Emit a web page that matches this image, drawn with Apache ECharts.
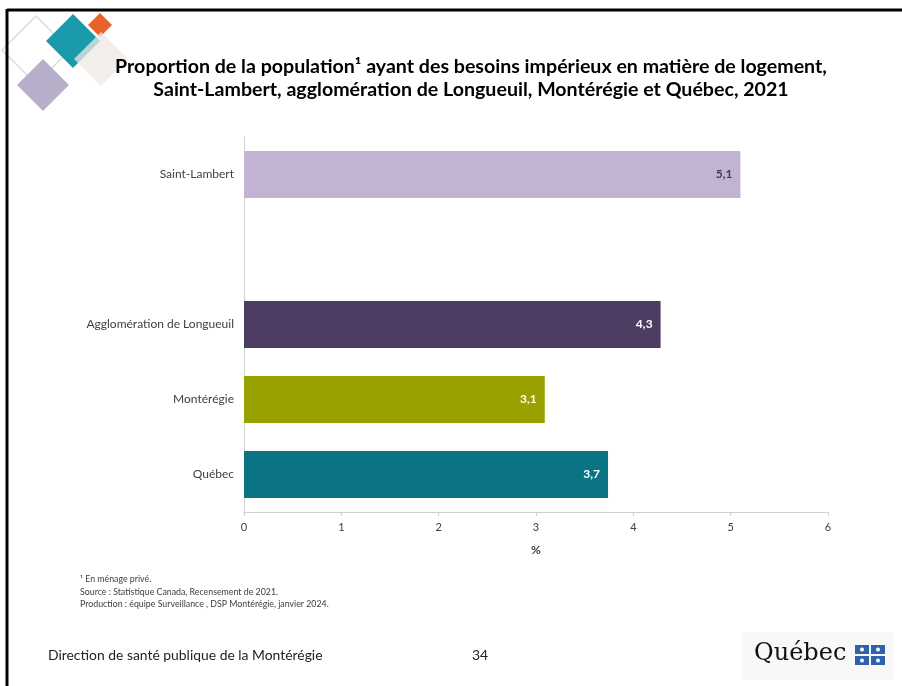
<!DOCTYPE html>
<html><head><meta charset="utf-8">
<script src="https://cdn.jsdelivr.net/npm/echarts@6/dist/echarts.min.js"></script>
<style>html,body{margin:0;padding:0;background:#fff}#c{width:902px;height:686px}</style>
</head><body><div id="c"></div>
<script>
var categories = ['Saint-Lambert', '', 'Agglomération de Longueuil', 'Montérégie', 'Québec'];
var values = [5.1, null, 4.28, 3.09, 3.74];
var xTicks = [0, 1, 2, 3, 4, 5, 6];
var titleLines = ['Proportion de la population¹ ayant des besoins impérieux en matière de logement,', 'Saint-Lambert, agglomération de Longueuil, Montérégie et Québec, 2021'];
var footnotes = ['¹ En ménage privé.', 'Source : Statistique Canada, Recensement de 2021.', 'Production : équipe Surveillance , DSP Montérégie, janvier 2024.'];
var footerText = 'Direction de santé publique de la Montérégie';
var pageNumber = '34';

var barColors = ['#c2b3d3', '#ffffff', '#4e3d62', '#97a200', '#0b7482'];
var labelColors = ['#404040', '#ffffff', '#ffffff', '#ffffff', '#ffffff'];
var FONT = 'Lato, "Open Sans", sans-serif';

var chart = echarts.init(document.getElementById('c'), null, {renderer: 'canvas'});

function diamond(cx, cy, h, style, z) {
  return {type: 'polygon', shape: {points: [[cx, cy - h], [cx + h, cy], [cx, cy + h], [cx - h, cy]]}, style: style, z: z};
}

var flagEls = [];
var fx = 855, fy = 645, fw = 14, fh = 9, gap = 2;
for (var r = 0; r < 2; r++) for (var c = 0; c < 2; c++) {
  var x0 = fx + c * (fw + gap), y0 = fy + r * (fh + gap);
  flagEls.push({type: 'rect', shape: {x: x0, y: y0, width: fw, height: fh}, style: {fill: '#2f62ad'}, z: 10});
  flagEls.push({type: 'circle', shape: {cx: x0 + fw / 2, cy: y0 + fh / 2, r: 2}, style: {fill: '#ffffff'}, z: 11});
}

var seriesData = values.map(function (v, i) {
  return {value: v, itemStyle: {color: barColors[i]}, label: {color: labelColors[i]}};
});

chart.setOption({
  animation: false,
  backgroundColor: '#ffffff',
  textStyle: {fontFamily: FONT},
  grid: {left: 244, right: 74, top: 137, bottom: 174, containLabel: false},
  xAxis: {
    type: 'value', min: 0, max: 6, interval: 1,
    name: '%', nameLocation: 'middle', nameGap: 32,
    nameTextStyle: {fontFamily: FONT, fontSize: 12, fontWeight: 'bold', color: '#404040'},
    axisLine: {show: true, lineStyle: {color: '#d0d0d0', width: 1}},
    axisTick: {show: true, length: 4, lineStyle: {color: '#d0d0d0'}},
    splitLine: {show: false},
    axisLabel: {color: '#404040', fontSize: 11, margin: 10, fontFamily: FONT,
      formatter: function (v) { return xTicks.indexOf(v) >= 0 ? String(v) : ''; }}
  },
  yAxis: {
    type: 'category', data: categories, inverse: true,
    axisLine: {show: true, lineStyle: {color: '#d0d0d0', width: 1}},
    axisTick: {show: false},
    axisLabel: {color: '#404040', fontSize: 12, margin: 10, fontFamily: FONT}
  },
  series: [{
    type: 'bar', data: seriesData, barWidth: 47,
    label: {
      show: true, position: 'insideRight', distance: 8, fontSize: 12, fontWeight: 'bold', fontFamily: FONT,
      formatter: function (p) { return p.value == null ? '' : p.value.toFixed(1).replace('.', ','); }
    }
  }],
  graphic: [
    {type: 'line', shape: {x1: 7, y1: 10, x2: 902, y2: 10}, style: {stroke: '#000', lineWidth: 3}, z: 20},
    {type: 'line', shape: {x1: 7, y1: 9, x2: 7, y2: 686}, style: {stroke: '#000', lineWidth: 3}, z: 20},
    diamond(36, 50, 34, {fill: 'none', stroke: '#d9e0d6', lineWidth: 1.5}, 1),
    diamond(43, 85, 26, {fill: '#b7afc9'}, 2),
    diamond(100, 25, 12, {fill: '#e8622a'}, 2),
    diamond(73, 41, 27, {fill: '#1a9aab'}, 3),
    diamond(101, 59, 27, {fill: 'rgba(236,232,229,0.75)'}, 4),
    {type: 'text', x: 471, y: 55, style: {text: titleLines.join('\n'), font: 'bold 19.6px ' + FONT, fill: '#000', textAlign: 'center', textVerticalAlign: 'top', lineHeight: 23}, z: 5},
    {type: 'text', left: 80, top: 573, style: {text: footnotes.join('\n'), font: '8.8px ' + FONT, fill: '#404040', lineHeight: 12.5}},
    {type: 'text', left: 48, top: 649, style: {text: footerText, font: '13.9px ' + FONT, fill: '#222'}},
    {type: 'text', left: 472, top: 649, style: {text: pageNumber, font: '13.9px ' + FONT, fill: '#222'}},
    {type: 'rect', shape: {x: 742, y: 632, width: 152, height: 48}, style: {fill: '#f9f8f6'}, z: 9},
    {type: 'text', left: 754, top: 642, style: {text: 'Québec', font: '24px "DejaVu Serif", serif', fill: '#111'}, z: 10}
  ].concat(flagEls)
});
</script></body></html>
